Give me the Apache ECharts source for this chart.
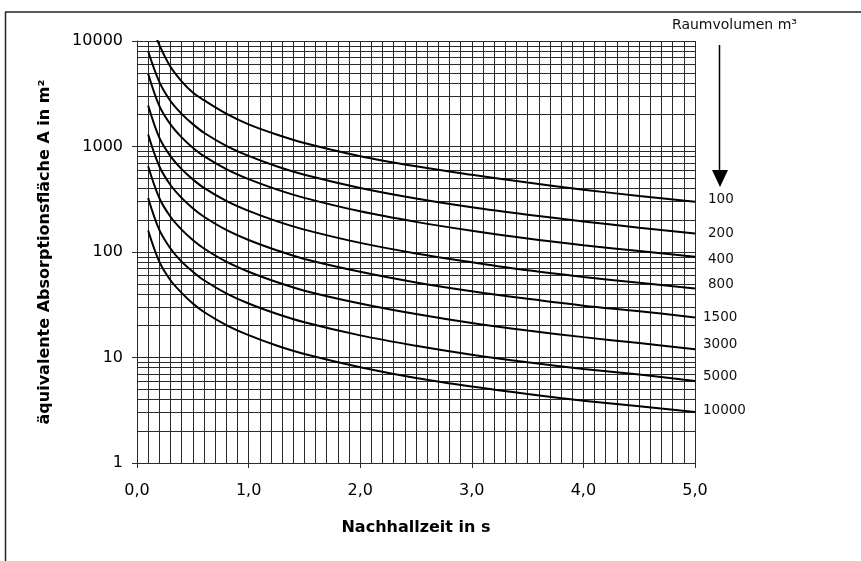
<!DOCTYPE html>
<html>
<head>
<meta charset="utf-8">
<script src="https://cdn.jsdelivr.net/npm/echarts@6/dist/echarts.min.js"></script>
<style>
html,body{margin:0;padding:0;background:#fff;}
#chart{width:861px;height:561px;}
</style>
</head>
<body>
<div id="chart"></div>
<script>
// ---- data ----
const times = [0.1, 0.2, 0.3, 0.4, 0.5, 0.6, 0.8, 1.0, 1.25, 1.5, 2.0, 2.5, 3.0, 3.5, 4.0, 4.5, 5.0];
const curveLabels = ['100', '200', '400', '800', '1500', '3000', '5000', '10000'];
const curve1 = [17000, 9200, 5700, 4150, 3250, 2750, 2050, 1620, 1300, 1080, 810, 650, 540, 455, 390, 340, 300];
const curve2 = [8000, 4100, 2700, 2040, 1630, 1350, 1015, 815, 650, 540, 405, 322, 266, 226, 195, 170, 150];
const curve3 = [4900, 2430, 1620, 1220, 975, 810, 610, 490, 392, 326, 243, 193, 159, 134, 116, 102, 90];
const curve4 = [2450, 1215, 810, 610, 488, 405, 305, 245, 196, 163, 122, 97, 80, 67, 58, 51, 45];
const curve5 = [1300, 650, 432, 326, 260, 216, 162, 130, 104, 86, 65, 51.5, 42.5, 36, 31, 27.5, 24];
const curve6 = [650, 325, 216, 163, 130, 108, 81, 65, 52, 43, 32.5, 25.8, 21.2, 18, 15.6, 13.7, 12];
const curve7 = [325, 162, 108, 81, 65, 54, 40.6, 32.5, 26, 21.6, 16.2, 12.9, 10.6, 9.0, 7.8, 6.9, 6.0];
const curve8 = [160, 81, 54, 41, 32.5, 27, 20.3, 16.3, 13, 10.8, 8.1, 6.4, 5.3, 4.5, 3.9, 3.45, 3.05];
const xTicks = [0, 1, 2, 3, 4, 5];
const yTicks = [1, 10, 100, 1000, 10000];
const yMinorGrid = [2,3,4,5,6,7,8,9, 20,30,40,50,60,70,80,90, 200,300,400,500,600,700,800,900, 2000,3000,4000,5000,6000,7000,8000,9000];
const xTitle = 'Nachhallzeit in s';
const yTitle = 'äquivalente Absorptionsfläche A in m²';
const legendTitle = 'Raumvolumen m³';

// label nudges (styling only)
const labelDist = [13, 13, 13, 13, 8, 8, 8, 8];
const labelDy = [-2, 0, 3, -4, 0, -5, -4, -1];

const curves = [curve1, curve2, curve3, curve4, curve5, curve6, curve7, curve8];
const gridColor = '#2a2a2a';

const series = curves.map((vals, i) => ({
  name: curveLabels[i],
  type: 'line',
  data: times.map((t, j) => [t, vals[j]]),
  smooth: 0.35,
  showSymbol: false,
  symbol: 'none',
  clip: true,
  z: 5,
  lineStyle: { color: '#000', width: 2 },
  endLabel: {
    show: true,
    formatter: p => p.seriesName,
    distance: labelDist[i],
    offset: [0, labelDy[i]],
    color: '#111',
    fontFamily: 'DejaVu Sans',
    fontSize: 13.5
  }
}));

series.push({
  type: 'line',
  data: [],
  silent: true,
  z: 1,
  markLine: {
    silent: true,
    symbol: 'none',
    animation: false,
    label: { show: false },
    lineStyle: { color: gridColor, width: 1, type: 'solid' },
    data: yMinorGrid.map(v => ({ yAxis: v }))
  }
});

const chart = echarts.init(document.getElementById('chart'), null, { renderer: 'canvas' });
chart.setOption({
  animation: false,
  backgroundColor: '#fff',
  grid: { left: 137, right: 166, top: 41, bottom: 98 },
  xAxis: {
    type: 'value',
    min: xTicks[0],
    max: xTicks[xTicks.length - 1],
    interval: 1,
    name: xTitle,
    nameLocation: 'middle',
    nameGap: 57,
    nameTextStyle: { fontFamily: 'DejaVu Sans', fontWeight: 'bold', fontSize: 16, color: '#000' },
    axisLine: { lineStyle: { color: gridColor, width: 1 } },
    axisTick: { show: true, length: 5, inside: false, lineStyle: { color: gridColor } },
    axisLabel: {
      margin: 20,
      fontFamily: 'DejaVu Sans',
      fontSize: 16,
      color: '#000',
      formatter: v => v.toFixed(1).replace('.', ',')
    },
    splitLine: { show: true, lineStyle: { color: gridColor, width: 1 } },
    minorTick: { show: false, splitNumber: 10 },
    minorSplitLine: { show: true, lineStyle: { color: gridColor, width: 1 } }
  },
  yAxis: {
    type: 'log',
    logBase: 10,
    min: yTicks[0],
    max: yTicks[yTicks.length - 1],
    splitNumber: 4,
    name: yTitle,
    nameLocation: 'middle',
    nameGap: 84,
    nameRotate: 90,
    nameTextStyle: { fontFamily: 'DejaVu Sans', fontWeight: 'bold', fontSize: 16, color: '#000' },
    axisLine: { show: true, lineStyle: { color: gridColor, width: 1 } },
    axisTick: { show: true, length: 5, lineStyle: { color: gridColor } },
    axisLabel: {
      margin: 14,
      fontFamily: 'DejaVu Sans',
      fontSize: 16,
      color: '#000',
      formatter: v => String(Math.round(v))
    },
    splitLine: { show: true, lineStyle: { color: gridColor, width: 1 } }
  },
  graphic: [
    { type: 'line', shape: { x1: 5, y1: 12, x2: 861, y2: 12 }, style: { stroke: '#222', lineWidth: 1.5 } },
    { type: 'line', shape: { x1: 5.5, y1: 12, x2: 5.5, y2: 561 }, style: { stroke: '#222', lineWidth: 1.5 } },
    { type: 'text', left: 672, top: 18, style: { text: legendTitle, font: '14px "DejaVu Sans"', fill: '#111' } },
    { type: 'line', shape: { x1: 719.5, y1: 45, x2: 719.5, y2: 172 }, style: { stroke: '#000', lineWidth: 1.5 } },
    { type: 'polygon', shape: { points: [[712, 170], [728, 170], [720, 187]] }, style: { fill: '#000' } }
  ],
  series: series
});
</script>
</body>
</html>
